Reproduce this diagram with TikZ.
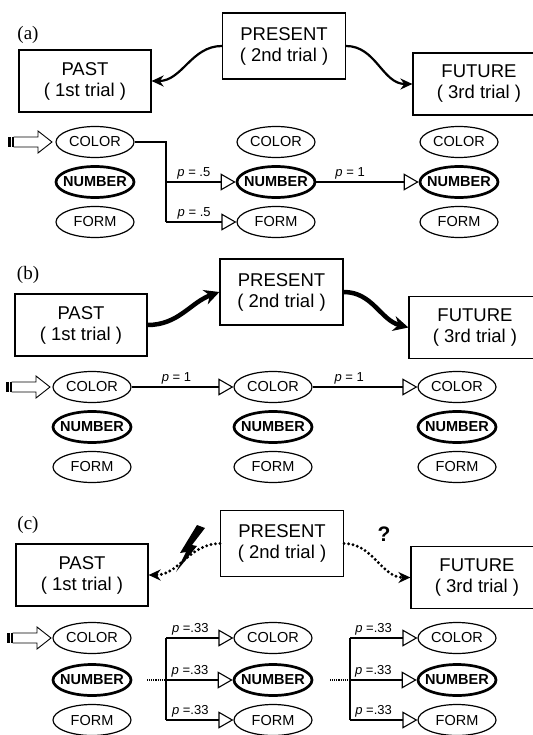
\documentclass[tikz,border=0pt]{standalone}
\usepackage{fontspec}
\setmainfont{Liberation Sans}
\newfontfamily\timesfont{Liberation Serif}
\usetikzlibrary{arrows.meta, shapes.geometric}

\begin{document}
\begin{tikzpicture}[x=1pt, y=-1pt,
    box/.style={draw, line width=1.2pt, minimum width=132pt, minimum height=62pt,
      inner sep=0pt, align=center, font=\fontsize{18.5}{21}\selectfont},
    nowbox/.style={box, minimum width=123pt, minimum height=66pt},
    attr/.style={draw, ellipse, line width=1.2pt, minimum width=78pt, minimum height=31pt,
      inner xsep=-6pt, inner ysep=0pt, font=\fontsize{14.5}{16}\selectfont},
    keyattr/.style={attr, line width=2.7pt, font=\fontsize{14.5}{16}\selectfont\bfseries},
    panel/.style={font=\fontsize{19}{21}\selectfont\timesfont},
    link/.style={line width=1.1pt},
    flow/.style={link, -{Triangle[open, length=15pt, width=17pt]}},
    prob/.style={above=2.5pt, inner sep=0pt, font=\fontsize{13}{15}\selectfont},
    swing/.style={line width=2.2pt, -{Stealth[length=12pt, width=11pt]}},
    heavy/.style={line width=4.5pt, -{Stealth[length=15pt, width=15pt]}},
    faint/.style={line width=3.2pt, line cap=round, dash pattern=on 0pt off 4.5pt,
      -{Stealth[length=12pt, width=11pt]}},
    cue/.pic={
      \fill (-44,-5) rectangle (-41,5);
      \fill (-40,-5) rectangle (-38.5,5);
      \draw[line width=0.9pt] (-38.5,-5) -- (-14,-5) -- (-14,-11) -- (0,0)
        -- (-14,11) -- (-14,5) -- (-38.5,5);
    },
  ]
  \useasboundingbox (0,0) rectangle (532,735);

  % Panel (a)
  \node[panel] (labA) at (28,35) {(a)};
  \node[box] (pastA) at (85,81) {PAST\\( 1st trial )};
  \node[nowbox] (nowA) at (284,46) {PRESENT\\( 2nd trial )};
  \node[box] (futA) at (479,84) {FUTURE\\( 3rd trial )};

  \node[attr] (colorA1) at (95,142) {COLOR};
  \node[keyattr] (numberA1) at (95,182) {NUMBER};
  \node[attr] (formA1) at (95,222) {FORM};
  \node[attr] (colorA2) at (276,142) {COLOR};
  \node[keyattr] (numberA2) at (276,182) {NUMBER};
  \node[attr] (formA2) at (276,222) {FORM};
  \node[attr] (colorA3) at (459,142) {COLOR};
  \node[keyattr] (numberA3) at (459,182) {NUMBER};
  \node[attr] (formA3) at (459,222) {FORM};
  \pic at (52,142) {cue};

  \draw[swing] (nowA.west) to[out=180, in=0] (pastA.east);
  \draw[swing] (nowA.east) to[out=0, in=180] (futA.west);

  \coordinate (forkA) at (166,182);
  \draw[link] (colorA1.east) -| (forkA |- formA2.west);
  \draw[flow] (forkA) -- (numberA2.west) node[prob, pos=.4] {\textit{p} = .5};
  \draw[flow] (forkA |- formA2.west) -- (formA2.west) node[prob, pos=.4] {\textit{p} = .5};
  \draw[flow] (numberA2.east) -- (numberA3.west) node[prob, pos=.33] {\textit{p} = 1};

  % Panel (b)
  \node[panel] (labB) at (28,275) {(b)};
  \node[box] (pastB) at (81,325) {PAST\\( 1st trial )};
  \node[nowbox] (nowB) at (281.5,292) {PRESENT\\( 2nd trial )};
  \node[box] (futB) at (475,327.5) {FUTURE\\( 3rd trial )};

  \node[attr] (colorB1) at (92,387) {COLOR};
  \node[keyattr] (numberB1) at (92,427) {NUMBER};
  \node[attr] (formB1) at (92,467) {FORM};
  \node[attr] (colorB2) at (273,387) {COLOR};
  \node[keyattr] (numberB2) at (273,427) {NUMBER};
  \node[attr] (formB2) at (273,467) {FORM};
  \node[attr] (colorB3) at (457,387) {COLOR};
  \node[keyattr] (numberB3) at (457,427) {NUMBER};
  \node[attr] (formB3) at (457,467) {FORM};
  \pic at (50,387) {cue};

  \draw[heavy] (pastB.east) to[out=0, in=200] (nowB.west);
  \draw[heavy] (nowB.east) to[out=0, in=165] (futB.west);

  \draw[flow] (colorB1.east) -- (colorB2.west) node[prob, pos=.44] {\textit{p} = 1};
  \draw[flow] (colorB2.east) -- (colorB3.west) node[prob, pos=.35] {\textit{p} = 1};

  % Panel (c)
  \node[panel] (labC) at (28,525) {(c)};
  \node[box] (pastC) at (82,575) {PAST\\( 1st trial )};
  \node[nowbox] (nowC) at (282,543.5) {PRESENT\\( 2nd trial )};
  \node[box] (futC) at (477,577.5) {FUTURE\\( 3rd trial )};
  \node[font=\fontsize{21}{23}\selectfont\bfseries] (ask) at (384,534) {?};

  \node[attr] (colorC1) at (92,638) {COLOR};
  \node[keyattr] (numberC1) at (92,680) {NUMBER};
  \node[attr] (formC1) at (92,720) {FORM};
  \node[attr] (colorC2) at (273,638) {COLOR};
  \node[keyattr] (numberC2) at (273,680) {NUMBER};
  \node[attr] (formC2) at (273,720) {FORM};
  \node[attr] (colorC3) at (457,638) {COLOR};
  \node[keyattr] (numberC3) at (457,680) {NUMBER};
  \node[attr] (formC3) at (457,720) {FORM};
  \pic at (51,638) {cue};

  \draw[faint] (nowC.west) to[out=180, in=0] (pastC.east);
  \draw[faint] (nowC.east) to[out=0, in=180] (futC.west);
  % lightning bolt
  \fill (197,525) -- (205,528) -- (192,545) -- (197,546) -- (176,572)
    -- (186,552) -- (180,553) -- cycle;

  \coordinate (gapC1) at (147,680);
  \coordinate (forkC1) at (166,680);
  \draw[link, densely dotted] (gapC1) -- (forkC1);
  \draw[link] (forkC1 |- colorC2.west) -- (forkC1 |- formC2.west);
  \draw[flow] (forkC1 |- colorC2.west) -- (colorC2.west) node[prob, pos=.36] {\textit{p} =.33};
  \draw[flow] (forkC1) -- (numberC2.west) node[prob, pos=.36] {\textit{p} =.33};
  \draw[flow] (forkC1 |- formC2.west) -- (formC2.west) node[prob, pos=.36] {\textit{p} =.33};

  \coordinate (gapC2) at (330,680);
  \coordinate (forkC2) at (350,680);
  \draw[link, densely dotted] (gapC2) -- (forkC2);
  \draw[link] (forkC2 |- colorC3.west) -- (forkC2 |- formC3.west);
  \draw[flow] (forkC2 |- colorC3.west) -- (colorC3.west) node[prob, pos=.35] {\textit{p} =.33};
  \draw[flow] (forkC2) -- (numberC3.west) node[prob, pos=.35] {\textit{p} =.33};
  \draw[flow] (forkC2 |- formC3.west) -- (formC3.west) node[prob, pos=.35] {\textit{p} =.33};
\end{tikzpicture}
\end{document}
